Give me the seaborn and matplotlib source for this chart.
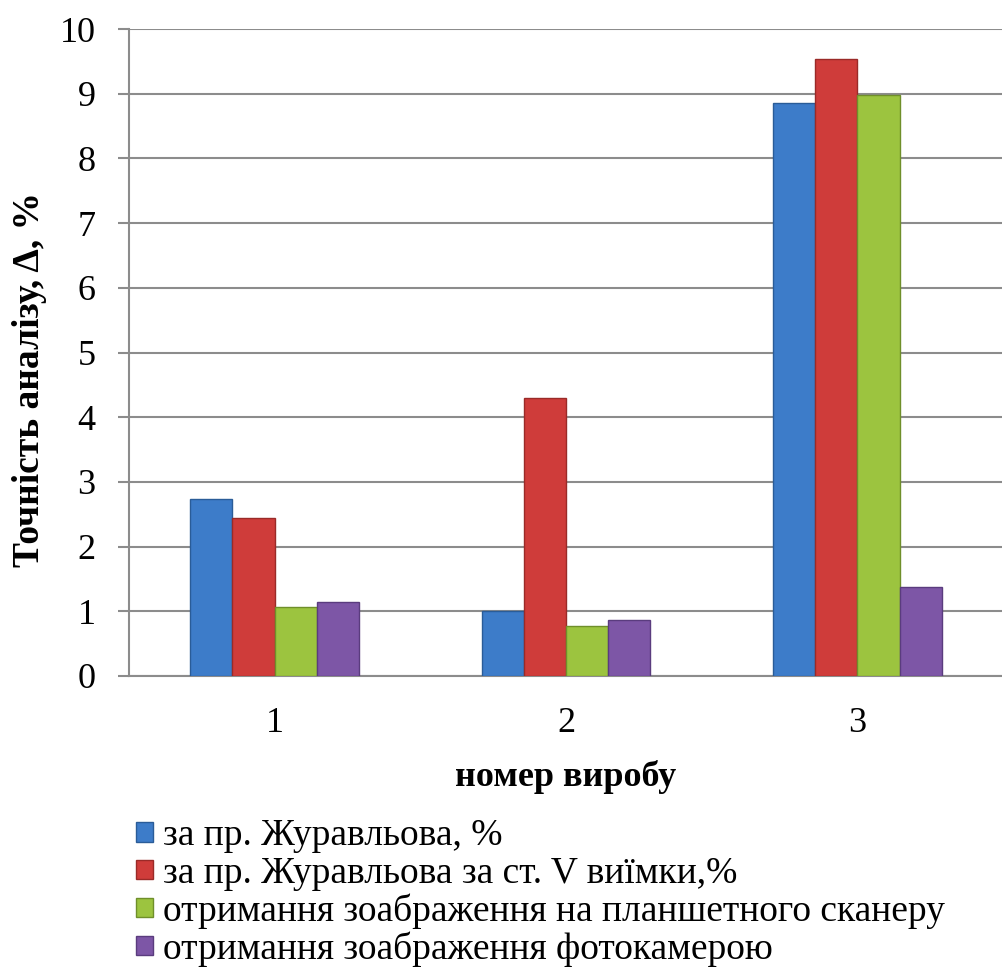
import matplotlib
matplotlib.use("Agg")
import matplotlib.pyplot as plt
import seaborn as sns
import pandas as pd
from matplotlib.patches import Patch

categories = ["1", "2", "3"]
series_names = [
    "за пр. Журавльова, %",
    "за пр. Журавльова за ст. V виїмки,%",
    "отримання зоабраження на планшетного сканеру",
    "отримання зоабраження фотокамерою",
]
s1 = [2.74, 1.00, 8.86]
s2 = [2.44, 4.29, 9.53]
s3 = [1.07, 0.77, 8.98]
s4 = [1.15, 0.86, 1.37]
yticks = [0, 1, 2, 3, 4, 5, 6, 7, 8, 9, 10]
colors = ["#3D7CC9", "#CF3C3A", "#9CC43F", "#7D56A6"]
edge_colors = ["#2A5C98", "#9A2A28", "#6F8F2A", "#5A3C7E"]

rows = []
for name, vals in zip(series_names, [s1, s2, s3, s4]):
    for c, v in zip(categories, vals):
        rows.append({"cat": c, "series": name, "val": v})
df = pd.DataFrame(rows)

sns.set_theme(style="white")
plt.rcParams["font.family"] = ["Liberation Serif", "DejaVu Serif"]
plt.rcParams["text.color"] = "black"
plt.rcParams["axes.labelcolor"] = "black"
plt.rcParams["xtick.color"] = "black"
plt.rcParams["ytick.color"] = "black"

fig = plt.figure(figsize=(10.03, 9.69), dpi=100)
ax = fig.add_axes([0.1286, 0.3024, 0.8714, 0.6676])

sns.barplot(data=df, x="cat", y="val", hue="series", order=categories,
            hue_order=series_names, palette=colors, width=0.58,
            saturation=1, ax=ax, legend=False, zorder=3)

for i, cont in enumerate(ax.containers):
    for p in cont:
        p.set_edgecolor(edge_colors[i])
        p.set_linewidth(1.0)

ax.set_ylim(0, 10)
ax.set_xlim(-0.5, 2.5)
ax.set_yticks(yticks)
ax.set_yticklabels([str(t) for t in yticks], fontsize=26)
ax.tick_params(axis="y", direction="out", length=8, width=1.5, color="#8c8c8c",
               labelcolor="black", pad=16, left=True)
ax.tick_params(axis="x", length=0, pad=22, labelsize=26, labelcolor="black")
ax.yaxis.grid(True, color="#8c8c8c", linewidth=1.5, zorder=0)
ax.set_axisbelow(True)
for s in ["top", "right"]:
    ax.spines[s].set_visible(False)
ax.spines["left"].set_color("#8c8c8c")
ax.spines["left"].set_linewidth(1.5)
ax.spines["bottom"].set_color("#8c8c8c")
ax.spines["bottom"].set_linewidth(1.5)

ax.set_ylabel("Точність аналізу, Δ, %", fontsize=27, fontweight="bold", color="black")
ax.yaxis.set_label_coords(-0.094, 0.458)
ax.set_xlabel("номер виробу", fontsize=26, fontweight="bold", labelpad=15, color="black")

handles = [Patch(facecolor=c, edgecolor=e) for c, e in zip(colors, edge_colors)]
fig.legend(handles, series_names, loc="upper left", bbox_to_anchor=(0.1356, 0.1548),
           frameon=False, fontsize=27, handlelength=0.45, handleheight=0.42,
           handletextpad=0.27, labelspacing=0.07, borderaxespad=0, borderpad=0,
           labelcolor="black")

fig.savefig("out.png", dpi=100)
